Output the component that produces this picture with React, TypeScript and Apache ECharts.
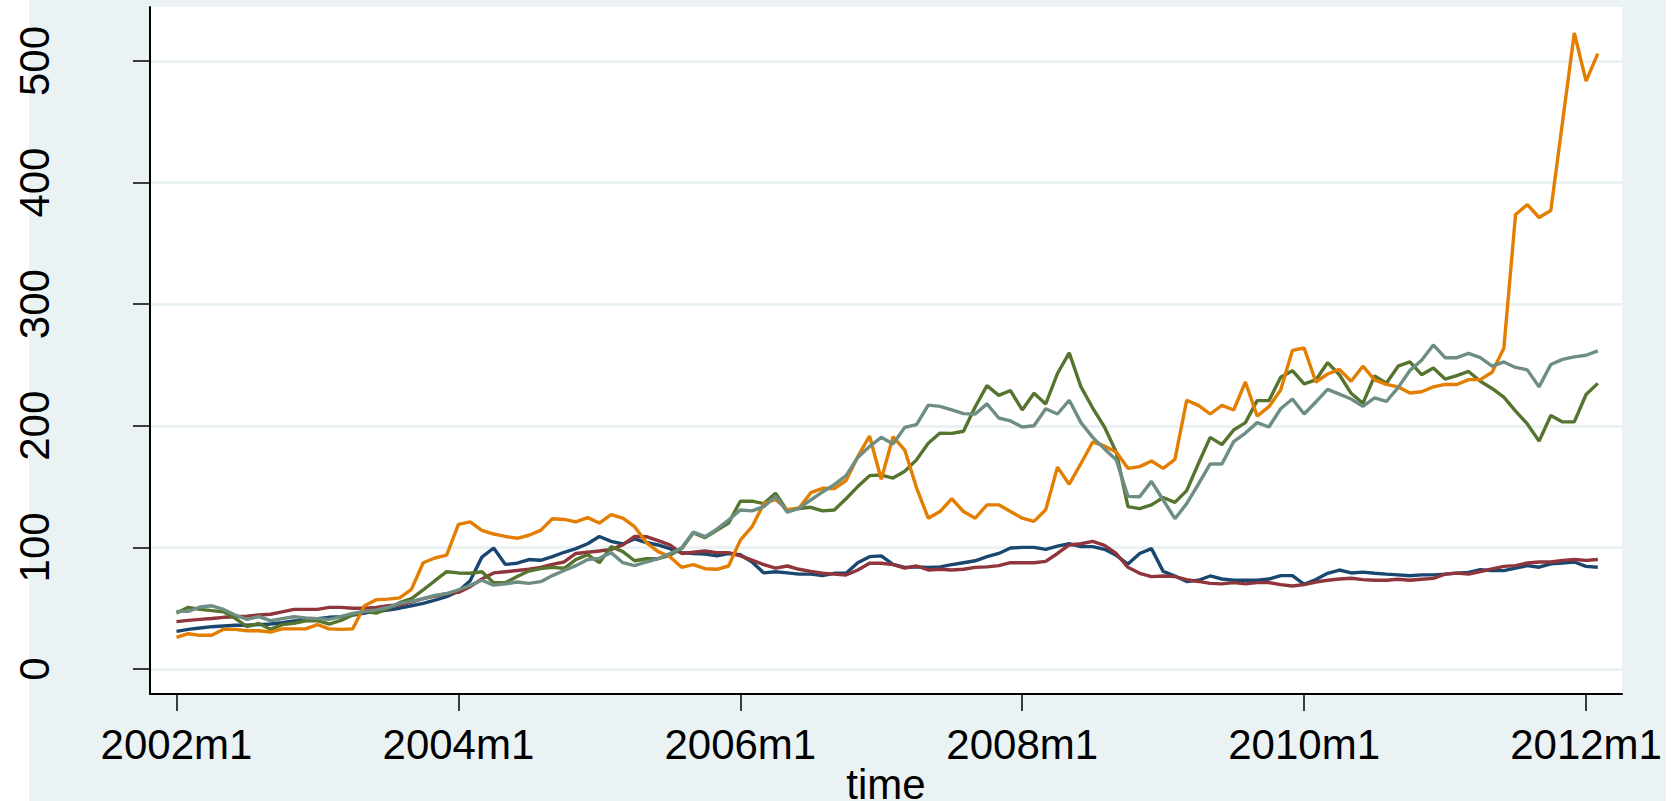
import React, { useEffect, useRef } from "react";
import * as echarts from "echarts";

// Monthly series, 2002m1 .. 2012m2 (122 months)
const startYear = 2002;
const xTickValues = [0, 24, 48, 72, 96, 120];
const xTickLabels = ["2002m1", "2004m1", "2006m1", "2008m1", "2010m1", "2012m1"];
const yTickValues = [0, 100, 200, 300, 400, 500];

const navySeries = [
  31, 32.6, 33.7, 34.8, 35.4, 36, 36, 36.5, 37, 38, 39.5, 40, 41.4, 42.5, 43, 44.4, 46, 47.4, 48.5, 50,
  52, 54, 56.7, 59.5, 64, 72.6, 92, 99.5, 86, 87, 90, 89.4, 92.4, 96, 99, 103, 109, 105, 102.8, 107,
  104, 102, 99, 95.7, 95, 94.6, 93, 95, 94, 88, 79, 80, 79, 78, 78, 76.8, 78.7, 78.7, 87.4, 92.4,
  93, 86, 83.6, 84, 83.6, 84, 85.8, 87.4, 89, 92.4, 95, 99.5, 100, 100, 98.4, 101, 103, 100.6, 100.6, 98.4,
  93.5, 86.3, 95, 99, 80.3, 76.5, 72, 73, 76.5, 74, 73, 73, 73, 74, 76.8, 76.8, 69.6, 73.5, 78.7, 81.4,
  79, 79.7, 78.7, 78, 77.4, 76.7, 77.4, 77.4, 78, 78.8, 79.5, 81.6, 80.9, 80.9, 83, 85, 83.7, 86.5, 87.2, 88,
  84.4, 83.7,
];

const maroonSeries = [
  39, 40, 40.8, 41.5, 42.5, 43, 43.5, 44.4, 45, 47, 49, 49, 49, 50.7, 50.7, 50, 50, 50.7, 52, 52.6,
  55, 57.8, 60, 62, 63, 67.7, 74, 79, 80, 81, 82, 83.6, 86, 88, 95, 96, 97, 98.4, 102, 109,
  108.8, 105.5, 102, 95, 96, 97, 95.7, 95.7, 93, 89.6, 85.8, 83, 84.7, 82, 80.3, 78.7, 78, 77.3, 81.4, 87,
  87, 85.8, 83, 84.7, 81.4, 82, 81.4, 82, 83.6, 84, 85, 87.4, 87.4, 87.4, 88.5, 95, 102, 103, 105, 101.7,
  95, 83.6, 78.7, 76, 76.5, 76, 73.5, 72, 70.4, 70, 71, 70, 71, 71, 69.4, 68.3, 69.4, 71.5, 73, 74,
  74.6, 73.5, 73, 73, 73.8, 73, 73.8, 74.5, 78, 78.8, 78, 80.2, 82.3, 84.4, 85, 87.2, 88, 88, 89.3, 90,
  89.3, 90,
];

const greenSeries = [
  46, 50.7, 49, 48, 47, 41.7, 34.8, 37.5, 32.6, 36.5, 37.5, 39.7, 39.7, 37, 40, 44.4, 47.4, 46, 49.6, 54.5,
  57.8, 65, 72.6, 80, 79, 78.7, 80, 71, 71, 76, 80.6, 82.5, 83.6, 82.8, 90, 94, 87.4, 100.6, 96.5, 89,
  90.7, 90.7, 93.5, 99, 112, 108, 114, 120, 138, 138, 136, 144.5, 130, 132, 133, 130, 130.8, 140, 150, 159,
  159.5, 157, 162.6, 172, 185.6, 194, 193.8, 195.5, 215.7, 233, 225, 229, 213, 226.7, 218, 243, 260, 232, 214.6, 199,
  178.5, 133.5, 131.9, 135, 141, 137, 146.7, 169, 190.5, 184.5, 196.5, 202.6, 220.7, 220.7, 240, 245.3, 234.4, 237.7, 252, 242,
  226.7, 218.5, 241, 235, 249, 252.5, 242, 247.5, 238.4, 241.2, 244.7, 236.6, 230.7, 223.6, 212, 201.5, 187.4, 208.5, 203.2, 203.2,
  225.7, 234.9,
];

const orangeSeries = [
  26, 29, 27.7, 27.7, 32.6, 32.6, 31.5, 31.5, 30.4, 33, 33, 33, 36.5, 33, 32.6, 33, 52, 57, 57.5, 58.5,
  65.5, 87.4, 91.3, 93.7, 119, 121, 114, 111, 109, 107.5, 110, 114, 123.6, 123, 121, 124.5, 120, 127, 124, 117,
  104, 96.5, 92.4, 83.6, 85.8, 82.5, 82, 84.7, 106, 117, 136, 139.5, 131, 132.4, 145, 148.6, 148.3, 155, 174.6, 191.6,
  156, 191, 180, 149, 124, 129.5, 140, 129.5, 124, 135, 135, 129.5, 124, 121.4, 131, 166, 152, 169, 186.7, 183.4,
  178.5, 165, 166.4, 171, 165, 172.4, 221, 216.8, 209.7, 216.8, 213, 236, 208, 215.7, 229.4, 262, 264, 236, 242.6, 246.4,
  236.6, 249, 237.7, 234, 232, 227, 228, 232, 234, 234, 238, 238, 244, 263.7, 373.8, 381.9, 371.3, 377, 450, 523,
  483.5, 506,
];

const tealSeries = [
  47.4, 47.4, 51, 52, 49, 44.4, 40.8, 43, 39.7, 41.4, 43, 42, 41.4, 40.8, 43, 45.8, 47.4, 48.5, 50.7, 54,
  55.6, 57.8, 60.6, 62, 65, 68.8, 73, 69, 70, 71.5, 70.4, 71.8, 76.8, 81, 85, 90, 91, 95.7, 87.4, 85,
  88, 90.7, 95, 99.5, 112.7, 108.8, 115, 122.5, 130.8, 130, 133.5, 142, 129, 132, 139, 145.6, 151.6, 159, 174, 183,
  190.5, 185, 198.7, 201, 217, 216, 213, 210, 209.7, 218, 206.4, 204, 199, 200, 214, 209.7, 221, 202.6, 190.5, 181,
  172, 142, 141.7, 154.3, 139, 123.6, 136, 152, 168.6, 168.6, 187, 194, 202.6, 199, 214, 222, 209.7, 219.6, 230, 226,
  222, 216, 223, 220, 231.4, 245.4, 253.9, 266.5, 256, 256, 259.5, 256, 249, 252.5, 248, 246, 232, 250.4, 254.6, 256.7,
  258, 261.6,
];

const seriesDefs = [
  { name: "navy", data: navySeries, color: "#1a476f" },
  { name: "maroon", data: maroonSeries, color: "#90353b" },
  { name: "forest_green", data: greenSeries, color: "#55752f" },
  { name: "dkorange", data: orangeSeries, color: "#e37e00" },
  { name: "teal", data: tealSeries, color: "#6e8e84" },
];

const FONT = "'Liberation Sans', Arial, Helvetica, sans-serif";
const BG = "#EAF2F3";

export default function App() {
  const ref = useRef<HTMLDivElement>(null);

  useEffect(() => {
    if (!ref.current) return;
    const chart = echarts.init(ref.current, undefined, { renderer: "svg" });
    const labelFor = (v: number) => {
      const idx = xTickValues.indexOf(v);
      if (idx >= 0) return xTickLabels[idx];
      return `${startYear + Math.floor(v / 12)}m${(v % 12) + 1}`;
    };
    chart.setOption({
      animation: false,
      backgroundColor: "#ffffff",
      graphic: [
        {
          type: "rect",
          z: -10,
          silent: true,
          shape: { x: 29, y: 0, width: 1637, height: 801 },
          style: { fill: BG },
        },
      ],
      grid: {
        left: 150,
        right: 55,
        top: 7,
        bottom: 107,
        show: true,
        backgroundColor: "#ffffff",
        borderWidth: 0,
        outerBoundsMode: "none",
      },
      xAxis: {
        type: "value",
        min: -2.256,
        max: 123.06,
        name: "time",
        nameLocation: "middle",
        nameGap: 72,
        nameMoveOverlap: false,
        nameTextStyle: { fontFamily: FONT, fontSize: 42, color: "#000", lineHeight: 36 },
        axisLine: { show: true, onZero: false, lineStyle: { color: "#000", width: 2 } },
        axisTick: { show: true, length: 17, customValues: xTickValues, lineStyle: { color: "#000", width: 1.5 } },
        axisLabel: {
          customValues: xTickValues,
          formatter: (v: number) => labelFor(v),
          fontFamily: FONT,
          fontSize: 42,
          color: "#000",
          margin: 29,
        },
        splitLine: { show: false },
      },
      yAxis: {
        type: "value",
        min: -20.56,
        max: 544.4,
        axisLine: { show: true, onZero: false, lineStyle: { color: "#000", width: 2 } },
        axisTick: { show: true, length: 17, customValues: yTickValues, lineStyle: { color: "#000", width: 1.5 } },
        axisLabel: {
          customValues: yTickValues,
          rotate: 90,
          fontFamily: FONT,
          fontSize: 42,
          color: "#000",
          margin: 95,
        },
        splitLine: { show: true, lineStyle: { color: BG, width: 3 } },
      },
      series: seriesDefs.map((s) => ({
        name: s.name,
        type: "line",
        data: s.data.map((v, i) => [i, v]),
        showSymbol: false,
        symbol: "none",
        lineStyle: { color: s.color, width: 3.4 },
        itemStyle: { color: s.color },
        emphasis: { disabled: true },
      })),
    });
    return () => chart.dispose();
  }, []);

  return (
    <div style={{ position: "fixed", left: 0, top: 0, width: 1677, height: 801, background: "#ffffff" }}>
      <div ref={ref} style={{ position: "absolute", left: 0, top: 0, width: 1677, height: 801 }} />
    </div>
  );
}
